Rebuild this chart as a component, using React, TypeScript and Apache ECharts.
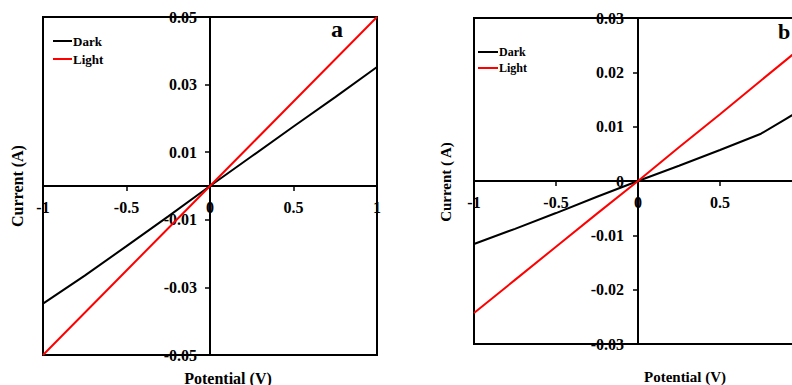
import React, { useEffect, useRef } from "react";
import * as echarts from "echarts";

const potentialA = [-1, -0.75, -0.5, -0.25, 0, 0.25, 0.5, 0.75, 1];
const darkA = [-0.0348, -0.0265, -0.0178, -0.009, 0, 0.0088, 0.0176, 0.0263, 0.0352];
const lightA = [-0.05, -0.0375, -0.025, -0.0125, 0, 0.0125, 0.025, 0.0375, 0.05];

const potentialB = [-1, -0.75, -0.5, -0.25, 0, 0.25, 0.5, 0.75, 0.9, 1];
const darkB = [-0.0116, -0.0088, -0.0059, -0.0029, 0, 0.0028, 0.0057, 0.0087, 0.0114, 0.0132];
const lightB = [-0.0243, -0.0182, -0.0121, -0.006, 0, 0.0062, 0.0123, 0.0185, 0.0222, 0.0247];

const seriesNames = ["Dark", "Light"];
const seriesColors = ["#000000", "#ff0000"];
const panelLabels = ["a", "b"];
const xTitle = "Potential (V)";
const yTitles = ["Current (A)", "Current ( A)"];

const FONT = "'Times New Roman', 'Liberation Serif', serif";

const pairs = (xs: number[], ys: number[]) => xs.map((x, i) => [x, ys[i]]);

export default function App() {
  const ref = useRef<HTMLDivElement>(null);
  useEffect(() => {
    if (!ref.current) return;
    const chart = echarts.init(ref.current, undefined, { renderer: "svg" });
    const labelStyle = {
      color: "#000",
      fontFamily: FONT,
      fontWeight: "bold" as const,
      fontSize: 16,
    };
    const xAxisCommon = {
      type: "value" as const,
      position: "bottom" as const,
      min: -1,
      max: 1,
      interval: 0.5,
      splitLine: { show: false },
      axisLine: { onZero: false, lineStyle: { color: "#000", width: 2 } },
      axisTick: { show: true, length: 5, lineStyle: { color: "#000", width: 1.5 } },
    };
    const yAxisCommon = {
      type: "value" as const,
      position: "left" as const,
      splitLine: { show: false },
      axisLine: { onZero: false, lineStyle: { color: "#000", width: 2 } },
      axisTick: { show: true, length: 5, lineStyle: { color: "#000", width: 1.5 } },
    };
    const lineSeries = (name: string, color: string, data: number[][], idx: number) => ({
      type: "line" as const,
      name,
      xAxisIndex: idx,
      yAxisIndex: idx,
      data,
      showSymbol: false,
      symbol: "none",
      lineStyle: { color, width: 2 },
      itemStyle: { color },
    });
    chart.setOption({
      animation: false,
      backgroundColor: "#fff",
      grid: [
        { left: 43, top: 17, width: 334, height: 338, show: true, borderColor: "#000", borderWidth: 2, outerBoundsMode: "none", containLabel: false },
        { left: 474, top: 18, width: 328, height: 326, show: true, borderColor: "#000", borderWidth: 2, outerBoundsMode: "none", containLabel: false },
      ],
      xAxis: [
        {
          ...xAxisCommon,
          gridIndex: 0,
          offset: -169,
          axisLabel: { ...labelStyle, margin: 13, showMinLabel: true, showMaxLabel: true },
        },
        {
          ...xAxisCommon,
          gridIndex: 1,
          offset: -163,
          axisLabel: { ...labelStyle, margin: 13, showMinLabel: true, showMaxLabel: false },
        },
      ],
      yAxis: [
        {
          ...yAxisCommon,
          gridIndex: 0,
          offset: -167,
          min: -0.05,
          max: 0.05,
          interval: 0.02,
          axisLabel: { ...labelStyle, margin: 13, showMinLabel: true, showMaxLabel: true },
        },
        {
          ...yAxisCommon,
          gridIndex: 1,
          offset: -164,
          min: -0.03,
          max: 0.03,
          interval: 0.01,
          axisLabel: { ...labelStyle, margin: 14, showMinLabel: true, showMaxLabel: true },
        },
      ],
      legend: [
        {
          orient: "vertical",
          left: 53,
          top: 33,
          padding: 0,
          itemWidth: 19,
          itemHeight: 2,
          itemGap: 2,
          icon: "rect",
          data: seriesNames,
          textStyle: { color: "#000", fontFamily: FONT, fontWeight: "bold", fontSize: 13, lineHeight: 16, padding: [0, 0, 0, -4] },
        },
        {
          orient: "vertical",
          left: 478,
          top: 45,
          padding: 0,
          itemWidth: 20,
          itemHeight: 2,
          itemGap: 2,
          icon: "rect",
          data: seriesNames,
          textStyle: { color: "#000", fontFamily: FONT, fontWeight: "bold", fontSize: 12, lineHeight: 14, padding: [0, 0, 0, -4] },
        },
      ],
      series: [
        lineSeries(seriesNames[0], seriesColors[0], pairs(potentialA, darkA), 0),
        lineSeries(seriesNames[1], seriesColors[1], pairs(potentialA, lightA), 0),
        lineSeries(seriesNames[0], seriesColors[0], pairs(potentialB, darkB), 1),
        lineSeries(seriesNames[1], seriesColors[1], pairs(potentialB, lightB), 1),
      ],
      graphic: [
        {
          type: "text",
          x: 337,
          y: 29,
          style: { text: panelLabels[0], fill: "#000", font: `bold 24px ${FONT}`, textAlign: "center", textVerticalAlign: "middle" },
        },
        {
          type: "text",
          x: 784,
          y: 31,
          style: { text: panelLabels[1], fill: "#000", font: `bold 22px ${FONT}`, textAlign: "center", textVerticalAlign: "middle" },
        },
        {
          type: "text",
          x: 17,
          y: 186,
          rotation: Math.PI / 2,
          style: { text: yTitles[0], fill: "#000", font: `bold 16px ${FONT}`, textAlign: "center", textVerticalAlign: "middle" },
        },
        {
          type: "text",
          x: 446,
          y: 182,
          rotation: Math.PI / 2,
          style: { text: yTitles[1], fill: "#000", font: `bold 15px ${FONT}`, textAlign: "center", textVerticalAlign: "middle" },
        },
        {
          type: "text",
          x: 228,
          y: 378,
          style: { text: xTitle, fill: "#000", font: `bold 16px ${FONT}`, textAlign: "center", textVerticalAlign: "middle" },
        },
        {
          type: "text",
          x: 685,
          y: 377,
          style: { text: xTitle, fill: "#000", font: `bold 15px ${FONT}`, textAlign: "center", textVerticalAlign: "middle" },
        },
      ],
    });
    return () => chart.dispose();
  }, []);
  return (
    <div
      ref={ref}
      style={{ position: "fixed", left: 0, top: 0, width: 792, height: 385, background: "#fff" }}
    />
  );
}
